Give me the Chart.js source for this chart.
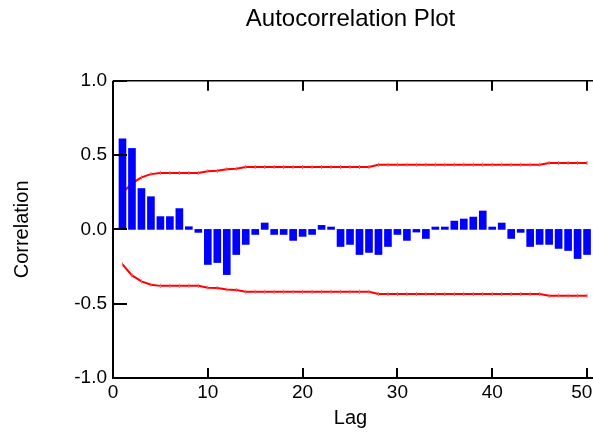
<!DOCTYPE html>
<html>
<head>
<meta charset="utf-8">
<title>Autocorrelation Plot</title>
<script src="https://cdn.jsdelivr.net/npm/chart.js@4/dist/chart.umd.min.js"></script>
<style>
  html, body { margin: 0; padding: 0; background: #fff; }
</style>
</head>
<body>
<canvas id="acfChart" width="593" height="435"></canvas>
<script>
// Lags and autocorrelation values
const lags = [1, 2, 3, 4, 5, 6, 7, 8, 9, 10,
  11, 12, 13, 14, 15, 16, 17, 18, 19, 20,
  21, 22, 23, 24, 25, 26, 27, 28, 29, 30,
  31, 32, 33, 34, 35, 36, 37, 38, 39, 40,
  41, 42, 43, 44, 45, 46, 47, 48, 49, 50];

const acf = [0.61, 0.545, 0.275, 0.22, 0.086, 0.086, 0.14, 0.018, -0.02, -0.236,
  -0.223, -0.304, -0.169, -0.101, -0.034, 0.043, -0.034, -0.034, -0.074, -0.047,
  -0.034, 0.027, 0.016, -0.115, -0.101, -0.169, -0.155, -0.169, -0.115, -0.034,
  -0.074, -0.018, -0.061, 0.016, 0.016, 0.056, 0.07, 0.083, 0.124, 0.016,
  0.043, -0.061, -0.02, -0.115, -0.101, -0.101, -0.128, -0.142, -0.196, -0.169];

// 95% confidence limits
const upperLimit = [0.245, 0.31, 0.35, 0.372, 0.38, 0.38, 0.38, 0.38, 0.38, 0.392,
  0.394, 0.405, 0.408, 0.42, 0.42, 0.42, 0.42, 0.42, 0.42, 0.42,
  0.42, 0.42, 0.42, 0.42, 0.42, 0.42, 0.42, 0.435, 0.435, 0.435,
  0.435, 0.435, 0.435, 0.435, 0.435, 0.435, 0.435, 0.435, 0.435, 0.435,
  0.435, 0.435, 0.435, 0.435, 0.435, 0.447, 0.447, 0.447, 0.447, 0.447];

const lowerLimit = [-0.235, -0.31, -0.35, -0.372, -0.38, -0.38, -0.38, -0.38, -0.38, -0.392,
  -0.394, -0.405, -0.408, -0.42, -0.42, -0.42, -0.42, -0.42, -0.42, -0.42,
  -0.42, -0.42, -0.42, -0.42, -0.42, -0.42, -0.42, -0.435, -0.435, -0.435,
  -0.435, -0.435, -0.435, -0.435, -0.435, -0.435, -0.435, -0.435, -0.435, -0.435,
  -0.435, -0.435, -0.435, -0.435, -0.435, -0.447, -0.447, -0.447, -0.447, -0.447];

const xTicks = [0, 10, 20, 30, 40, 50];
const yTicks = [-1, -0.5, 0, 0.5, 1];

const FONT = "'Liberation Sans', Arial, sans-serif";

const toPoints = (vals) => lags.map((lag, i) => ({ x: lag, y: vals[i] }));

// Frame with inward tick marks (left, bottom, top)
const axisFrame = {
  id: "axisFrame",
  afterDraw(chart) {
    const { ctx, chartArea: a, scales: { x, y } } = chart;
    const right = chart.width;
    ctx.save();
    ctx.strokeStyle = "#000";
    ctx.lineWidth = 2;
    ctx.beginPath();
    ctx.moveTo(a.left, a.top);
    ctx.lineTo(a.left, a.bottom);
    ctx.lineTo(right, a.bottom);
    yTicks.forEach((v) => {
      const py = Math.round(y.getPixelForValue(v));
      ctx.moveTo(a.left, py);
      ctx.lineTo(a.left + 14, py);
    });
    xTicks.forEach((v) => {
      const px = Math.round(x.getPixelForValue(v));
      ctx.moveTo(px, a.bottom);
      ctx.lineTo(px, a.bottom - 10);
      ctx.moveTo(px, a.top);
      ctx.lineTo(px, a.top + 10);
    });
    ctx.stroke();
    ctx.lineWidth = 1.5;
    ctx.beginPath();
    ctx.moveTo(a.left, a.top);
    ctx.lineTo(right, a.top);
    ctx.stroke();
    ctx.restore();
  },
};

const limitLine = (vals) => ({
  type: "line",
  data: toPoints(vals),
  borderColor: "#ff0000",
  borderWidth: 2,
  pointStyle: "line",
  rotation: 90,
  pointRadius: 2,
  pointBorderWidth: 1,
  pointBorderColor: "#ff6060",
  tension: 0,
  fill: false,
  clip: false,
});

const noGrid = { display: false, drawTicks: false, tickLength: 0, offset: false };

new Chart(document.getElementById("acfChart"), {
  type: "bar",
  data: {
    datasets: [
      {
        type: "bar",
        data: toPoints(acf),
        backgroundColor: "#0000ff",
        borderWidth: 0,
        barThickness: 7,
        clip: false,
      },
      limitLine(upperLimit),
      limitLine(lowerLimit),
    ],
  },
  options: {
    responsive: false,
    animation: false,
    layout: { padding: 0 },
    plugins: {
      legend: { display: false },
      tooltip: { enabled: false },
      title: {
        display: true,
        text: "Autocorrelation Plot",
        fullSize: false,
        color: "#000",
        font: { family: FONT, size: 24, weight: "normal" },
        padding: { top: 5, bottom: 47 },
      },
    },
    scales: {
      x: {
        type: "linear",
        offset: false,
        min: 0,
        max: 50.1,
        border: { display: false },
        grid: noGrid,
        afterBuildTicks: (s) => { s.ticks = xTicks.map((v) => ({ value: v })); },
        ticks: {
          color: "#000",
          font: { family: FONT, size: 19 },
          padding: 3,
          maxRotation: 0,
          // last label sits against the canvas edge, nudge it left
          callback: (v) => (v === 50 ? "50  " : String(v)),
        },
        title: {
          display: true,
          text: "Lag",
          color: "#000",
          font: { family: FONT, size: 20 },
          padding: { top: 0, bottom: 5 },
        },
        afterFit: (s) => {
          s.height = 57;
          s.paddingLeft = 0;
          s.paddingRight = 0;
        },
      },
      y: {
        min: -1,
        max: 1,
        border: { display: false },
        grid: noGrid,
        afterBuildTicks: (s) => { s.ticks = yTicks.map((v) => ({ value: v })); },
        ticks: {
          color: "#000",
          font: { family: FONT, size: 19 },
          padding: 6,
          callback: (v) => v.toFixed(1),
        },
        title: {
          display: true,
          text: "Correlation",
          color: "#000",
          font: { family: FONT, size: 20 },
          padding: { top: 10, bottom: 0 },
        },
        afterFit: (s) => { s.width = 113; },
      },
    },
  },
  plugins: [axisFrame],
});
</script>
</body>
</html>
